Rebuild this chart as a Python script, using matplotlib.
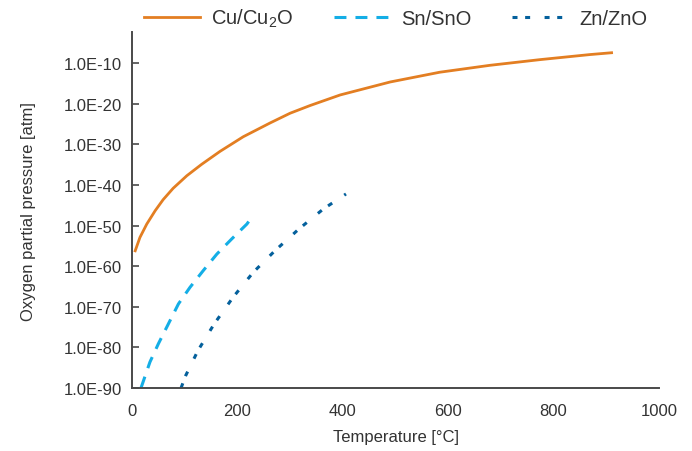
import numpy as np
import matplotlib
matplotlib.use("Agg")
import matplotlib.pyplot as plt
from matplotlib.ticker import FixedLocator, FuncFormatter, NullLocator

base_font = "Liberation Sans"
plt.rcParams["font.family"] = [base_font, "DejaVu Sans"]
plt.rcParams["mathtext.fontset"] = "custom"
plt.rcParams["mathtext.rm"] = base_font
plt.rcParams["lines.scale_dashes"] = False

# temperature [C] and log10 of oxygen partial pressure [atm]
cu_temp = [6, 15, 28, 44, 59, 78, 104, 132, 167, 211, 262, 300, 338, 395, 490,
           584, 679, 774, 869, 910]
cu_logp = [-56.2, -52.9, -49.6, -46.3, -43.6, -40.8, -37.7, -34.9, -31.7, -28.1,
           -24.7, -22.3, -20.4, -17.8, -14.6, -12.2, -10.5, -9.1, -7.85, -7.4]

sn_temp = [17, 34, 50, 69, 88, 110, 135, 161, 189, 218, 224]
sn_logp = [-90.0, -83.6, -79.1, -74.2, -69.3, -65.2, -61.1, -57.0, -53.3, -49.6, -48.5]

zn_temp = [93, 102, 125, 156, 192, 230, 271, 316, 363, 406]
zn_logp = [-90.0, -86.9, -80.8, -74.2, -67.6, -61.5, -56.2, -50.9, -45.9, -42.2]

series_labels = ["Cu/Cu$_2$O", "Sn/SnO", "Zn/ZnO"]
x_ticks = [0, 200, 400, 600, 800, 1000]
y_exps = [-90, -80, -70, -60, -50, -40, -30, -20, -10]

fig = plt.figure(figsize=(6.92, 4.52), dpi=100)
ax = fig.add_axes([0.1908, 0.1394, 0.7615, 0.7866])

ax.plot(cu_temp, 10.0 ** np.array(cu_logp), color="#E37E22", lw=2.0,
        label=series_labels[0])
ax.plot(sn_temp, 10.0 ** np.array(sn_logp), color="#14AEE6", lw=2.2,
        dashes=[8.6, 6.5], label=series_labels[1])
ax.plot(zn_temp, 10.0 ** np.array(zn_logp), color="#04609C", lw=2.2,
        dashes=[3.6, 5.5, 3.6, 10.4], label=series_labels[2])

ax.set_yscale("log")
ax.set_ylim(1e-90, 10 ** -2.4)
ax.set_xlim(0, 1000)
ax.yaxis.set_major_locator(FixedLocator([10.0 ** e for e in y_exps]))
ax.yaxis.set_minor_locator(NullLocator())
ax.yaxis.set_major_formatter(FuncFormatter(lambda v, p: "1.0E%d" % round(np.log10(v))))
ax.set_xticks(x_ticks)

for s in ["top", "right"]:
    ax.spines[s].set_visible(False)
for s in ["left", "bottom"]:
    ax.spines[s].set_color("#4a4a4a")
    ax.spines[s].set_linewidth(1.4)

ax.tick_params(axis="y", direction="in", length=5, width=1.2, color="#4a4a4a",
               labelsize=12, labelcolor="#333333", pad=7)
ax.tick_params(axis="x", length=0, labelsize=12, labelcolor="#333333", pad=11)

ax.set_xlabel("Temperature [°C]", fontsize=12, color="#333333", labelpad=8)
ax.set_ylabel("Oxygen partial pressure [atm]", fontsize=12, color="#333333", labelpad=20)

fig.legend(loc="center", bbox_to_anchor=(0.572, 0.958), ncol=3, frameon=False,
           fontsize=14.5, handlelength=2.8, handletextpad=0.55, columnspacing=2.0,
           labelcolor="#333333")

fig.savefig("out.png", dpi=100)
